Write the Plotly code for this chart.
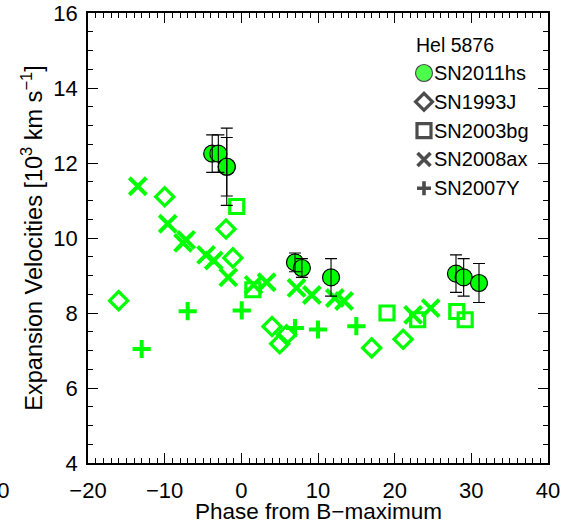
import plotly.graph_objects as go

# ---- He I 5876 expansion velocities (10^3 km/s) vs phase (days from B max) ----
sn2011hs_phase = [-3.8, -3.0, -1.9, -1.9, 7.0, 7.9, 11.7, 28.0, 29.0, 31.0]
sn2011hs_vel = [12.25, 12.25, 11.9, 11.9, 9.35, 9.2, 8.95, 9.05, 8.95, 8.8]
sn2011hs_err = [0.5, 0.5, 1.03, 0.78, 0.25, 0.25, 0.5, 0.5, 0.5, 0.52]

sn1993j_phase = [-16.0, -10.0, -2.0, -1.1, 4.0, 5.9, 5.0, 17.0, 21.1]
sn1993j_vel = [8.33, 11.1, 10.24, 9.47, 7.64, 7.42, 7.18, 7.07, 7.3]

sn2003bg_phase = [-0.6, 1.5, 19.0, 23.0, 28.1, 29.2]
sn2003bg_vel = [10.84, 8.62, 8.0, 7.82, 8.04, 7.82]

sn2008ax_phase = [-13.5, -9.6, -7.6, -7.2, -4.6, -3.6, -1.7, 1.6, 3.3,
                  7.2, 9.2, 12.2, 13.4, 22.4, 24.7]
sn2008ax_vel = [11.38, 10.38, 9.87, 9.95, 9.55, 9.4, 8.95, 8.75, 8.82,
                8.67, 8.48, 8.4, 8.32, 7.95, 8.13]

sn2007y_phase = [-13.0, -7.0, 0.05, 7.0, 10.0, 15.0]
sn2007y_vel = [7.04, 8.05, 8.07, 7.6, 7.56, 7.65]

legend_title = "Hel 5876"
legend_names = ["SN2011hs", "SN1993J", "SN2003bg", "SN2008ax", "SN2007Y"]

x_title = "Phase from B\u2212maximum"
y_title = "Expansion Velocities [10<sup>3</sup> km s<sup>\u22121</sup>]"

x_range = [-20, 40]
y_range = [4, 16]
x_ticks = [-20, -10, 0, 10, 20, 30, 40]
y_ticks = [4, 6, 8, 10, 12, 14, 16]

GREEN = "#00ff00"
FONT = "Liberation Sans, Arial, Helvetica, sans-serif"

# plot frame in pixels
W, H = 563, 525
L, R, T, B = 88, 548, 13, 463

fig = go.Figure()

fig.add_trace(go.Scatter(
    x=sn1993j_phase, y=sn1993j_vel, mode="markers", showlegend=False,
    marker=dict(symbol="diamond-open", size=14, color=GREEN,
                line=dict(color=GREEN, width=3.2))))
fig.add_trace(go.Scatter(
    x=sn2003bg_phase, y=sn2003bg_vel, mode="markers", showlegend=False,
    marker=dict(symbol="square-open", size=14, color=GREEN,
                line=dict(color=GREEN, width=3.2))))
fig.add_trace(go.Scatter(
    x=sn2008ax_phase, y=sn2008ax_vel, mode="markers", showlegend=False,
    marker=dict(symbol="x-thin-open", size=17, color=GREEN,
                line=dict(color=GREEN, width=4))))
fig.add_trace(go.Scatter(
    x=sn2007y_phase, y=sn2007y_vel, mode="markers", showlegend=False,
    marker=dict(symbol="cross-thin-open", size=13, color=GREEN,
                line=dict(color=GREEN, width=4))))
fig.add_trace(go.Scatter(
    x=sn2011hs_phase, y=sn2011hs_vel, mode="markers", showlegend=False,
    marker=dict(symbol="circle", size=17, color=GREEN,
                line=dict(color="black", width=1.2))))
# error bars drawn on top of the filled circles
fig.add_trace(go.Scatter(
    x=sn2011hs_phase, y=sn2011hs_vel, mode="markers", showlegend=False,
    marker=dict(size=0.1, color="rgba(0,0,0,0)"),
    error_y=dict(type="data", array=sn2011hs_err, color="black",
                 thickness=1.1, width=6)))

# ---- key: symbols on a pixel-space overlay axis, labels as annotations ----
key_x = 424
key_y0 = 73
key_dy = 28.8
key_symbols = ["circle", "diamond-open", "square-open", "x-thin-open", "cross-thin-open"]
key_sizes = [17, 13, 14, 13, 10]
key_fill = [GREEN, "black", "black", "black", "black"]
key_line_col = ["black", "black", "black", "black", "black"]
key_line_w = [1.2, 3.2, 3.2, 3.6, 3.6]
key_ys = [key_y0 + i * key_dy for i in range(len(legend_names))]

fig.add_trace(go.Scatter(
    x=[key_x] * len(legend_names), y=key_ys, mode="markers", showlegend=False,
    xaxis="x2", yaxis="y2", hoverinfo="skip",
    marker=dict(symbol=key_symbols, size=key_sizes, color=key_fill,
                line=dict(color=key_line_col, width=key_line_w))))

annotations = [dict(x=455, y=45, xref="x2", yref="y2", text=legend_title,
                    showarrow=False, xanchor="center", yanchor="middle",
                    font=dict(family=FONT, size=19.5, color="black"))]
for name, yy in zip(legend_names, key_ys):
    annotations.append(dict(x=key_x + 8, y=yy, xref="x2", yref="y2", text=name,
                            showarrow=False, xanchor="left", yanchor="middle",
                            font=dict(family=FONT, size=20, color="black")))


def px_to_paper(px, py):
    return (px - L) / (R - L), (B - py) / (B - T)


# x-axis title placed below the tick labels
tx, ty = px_to_paper((L + R) / 2, 512)
annotations.append(dict(x=tx, y=ty, xref="paper", yref="paper", text=x_title,
                        showarrow=False, xanchor="center", yanchor="middle",
                        font=dict(family=FONT, size=22.5, color="black")))

# neighbouring-panel labels at the figure edges
ex, ey = px_to_paper(11, 490)
annotations.append(dict(x=ex, y=ey, xref="paper", yref="paper", text="40",
                        showarrow=False, xanchor="right", yanchor="middle",
                        font=dict(family=FONT, size=22, color="black")))
ex, ey = px_to_paper(82, 518)
annotations.append(dict(x=ex, y=ey, xref="paper", yref="paper", text="16",
                        showarrow=False, xanchor="right", yanchor="top",
                        font=dict(family=FONT, size=22, color="black")))

axis_common = dict(
    showgrid=False, zeroline=False, showline=True, linecolor="black",
    linewidth=1.5, mirror="allticks", ticks="inside", tickcolor="black",
    tickwidth=1.2, ticklen=10, automargin=False,
    tickfont=dict(family=FONT, size=22, color="black"),
)

fig.update_layout(
    width=W, height=H,
    margin=dict(l=L, r=W - R, t=T, b=H - B, pad=0, autoexpand=False),
    paper_bgcolor="white", plot_bgcolor="white",
    font=dict(family=FONT, color="black"),
    xaxis=dict(
        range=x_range, tickvals=x_ticks,
        ticktext=[("\u2212" + str(-v)) if v < 0 else str(v) for v in x_ticks],
        minor=dict(dtick=1, ticks="inside", ticklen=5, tickcolor="black", tickwidth=1),
        ticklabelstandoff=7,
        **axis_common),
    yaxis=dict(
        range=y_range, tickvals=y_ticks,
        minor=dict(dtick=0.5, ticks="inside", ticklen=5, tickcolor="black", tickwidth=1),
        title=dict(text=y_title, standoff=4,
                   font=dict(family=FONT, size=23.5, color="black")),
        ticklabelstandoff=4,
        **axis_common),
    xaxis2=dict(range=[L, R], overlaying="x", visible=False, fixedrange=True),
    yaxis2=dict(range=[B, T], overlaying="y", visible=False, fixedrange=True),
    annotations=annotations,
)

fig.write_html("out.html")
